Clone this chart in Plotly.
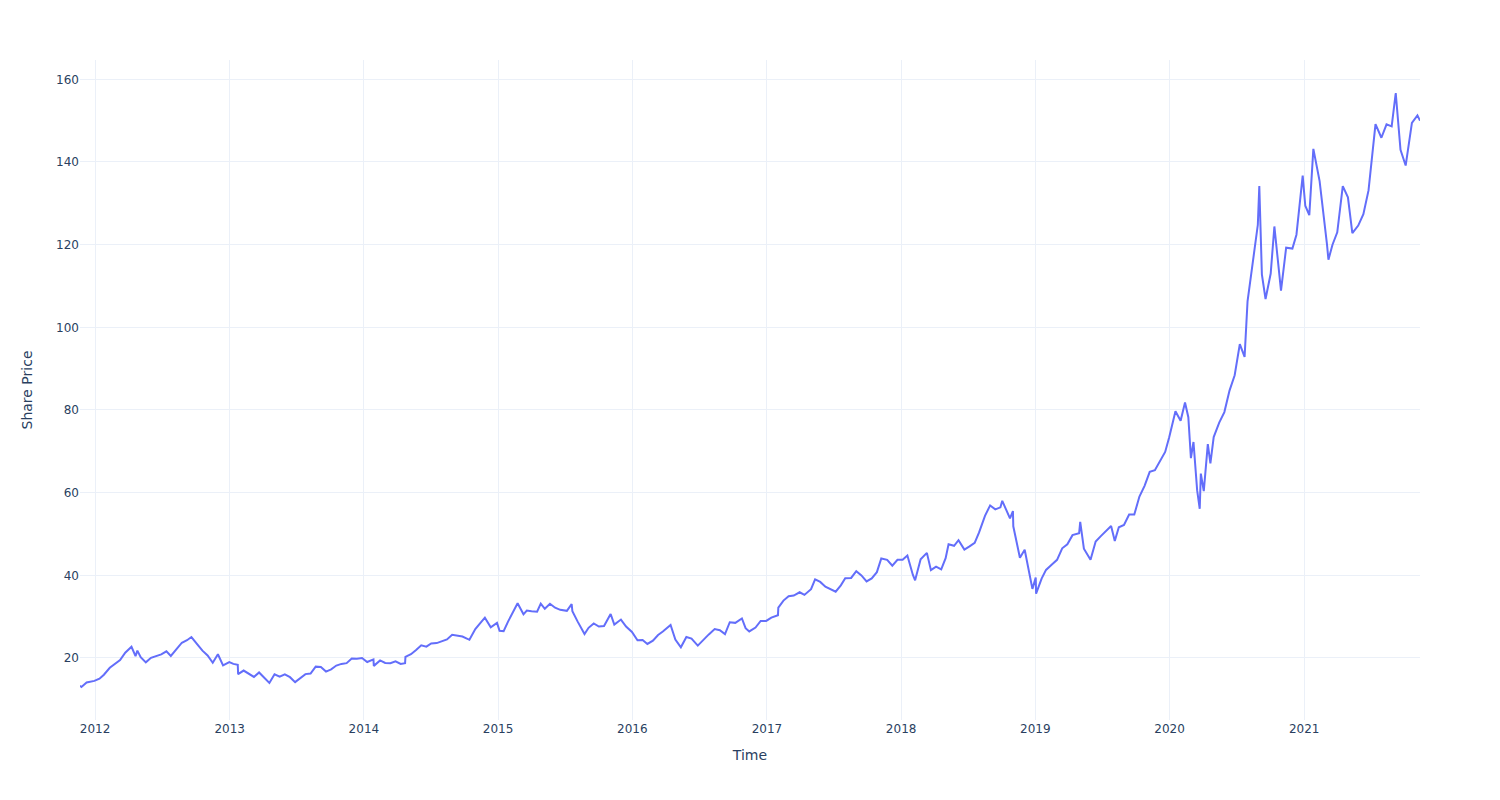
import plotly.graph_objects as go

dates = [
    "2011-11-21", "2011-11-25", "2011-12-09", "2011-12-30", "2012-01-13", "2012-01-25",
    "2012-02-10", "2012-02-24", "2012-03-09", "2012-03-23", "2012-04-09", "2012-04-20",
    "2012-04-25", "2012-05-04", "2012-05-18", "2012-06-01", "2012-06-15", "2012-06-29",
    "2012-07-13", "2012-07-25", "2012-08-10", "2012-08-24", "2012-09-07", "2012-09-19",
    "2012-10-05", "2012-10-19", "2012-11-02", "2012-11-16", "2012-11-30", "2012-12-14",
    "2012-12-31", "2013-01-11", "2013-01-23", "2013-01-24", "2013-02-08", "2013-02-22",
    "2013-03-08", "2013-03-22", "2013-04-05", "2013-04-19", "2013-05-03", "2013-05-17",
    "2013-05-31", "2013-06-14", "2013-06-28", "2013-07-12", "2013-07-26", "2013-08-09",
    "2013-08-23", "2013-09-06", "2013-09-20", "2013-10-04", "2013-10-18", "2013-11-01",
    "2013-11-15", "2013-11-29", "2013-12-13", "2013-12-27", "2014-01-10", "2014-01-27",
    "2014-01-28", "2014-02-14", "2014-02-28", "2014-03-14", "2014-03-28", "2014-04-11",
    "2014-04-23", "2014-04-24", "2014-05-09", "2014-05-23", "2014-06-06", "2014-06-20",
    "2014-07-03", "2014-07-18", "2014-08-01", "2014-08-15", "2014-08-29", "2014-09-12",
    "2014-09-26", "2014-10-15", "2014-10-31", "2014-11-14", "2014-11-26", "2014-12-12",
    "2014-12-29", "2015-01-05", "2015-01-16", "2015-01-28", "2015-02-13", "2015-02-23",
    "2015-03-11", "2015-03-20", "2015-04-02", "2015-04-17", "2015-04-27", "2015-05-08",
    "2015-05-22", "2015-06-05", "2015-06-19", "2015-07-07", "2015-07-20", "2015-07-22",
    "2015-08-05", "2015-08-24", "2015-09-04", "2015-09-18", "2015-10-02", "2015-10-16",
    "2015-11-03", "2015-11-13", "2015-12-01", "2015-12-15", "2015-12-31", "2016-01-15",
    "2016-01-29", "2016-02-11", "2016-02-26", "2016-03-11", "2016-03-24", "2016-04-14",
    "2016-04-27", "2016-05-12", "2016-05-27", "2016-06-10", "2016-06-27", "2016-07-15",
    "2016-07-27", "2016-08-12", "2016-08-26", "2016-09-09", "2016-09-22", "2016-10-07",
    "2016-10-25", "2016-11-04", "2016-11-14", "2016-12-01", "2016-12-15", "2016-12-30",
    "2017-01-13", "2017-01-31", "2017-02-01", "2017-02-15", "2017-03-01", "2017-03-15",
    "2017-03-31", "2017-04-13", "2017-05-01", "2017-05-12", "2017-05-26", "2017-06-09",
    "2017-06-23", "2017-07-07", "2017-07-21", "2017-08-02", "2017-08-18", "2017-09-01",
    "2017-09-15", "2017-09-29", "2017-10-13", "2017-10-27", "2017-11-08", "2017-11-24",
    "2017-12-08", "2017-12-22", "2018-01-05", "2018-01-18", "2018-02-02", "2018-02-08",
    "2018-02-23", "2018-03-12", "2018-03-23", "2018-04-06", "2018-04-20", "2018-05-02",
    "2018-05-10", "2018-05-25", "2018-06-06", "2018-06-22", "2018-07-06", "2018-07-20",
    "2018-08-01", "2018-08-17", "2018-08-31", "2018-09-14", "2018-09-28", "2018-10-03",
    "2018-10-24", "2018-11-01", "2018-11-02", "2018-11-20", "2018-12-03", "2018-12-14",
    "2018-12-24", "2019-01-02", "2019-01-03", "2019-01-18", "2019-01-30", "2019-02-15",
    "2019-03-01", "2019-03-15", "2019-03-29", "2019-04-12", "2019-04-30", "2019-05-03",
    "2019-05-13", "2019-05-31", "2019-06-14", "2019-06-28", "2019-07-12", "2019-07-26",
    "2019-08-05", "2019-08-16", "2019-08-30", "2019-09-13", "2019-09-27", "2019-10-11",
    "2019-10-25", "2019-11-08", "2019-11-22", "2019-12-06", "2019-12-20", "2019-12-31",
    "2020-01-17", "2020-01-31", "2020-02-12", "2020-02-21", "2020-02-28", "2020-03-06",
    "2020-03-16", "2020-03-23", "2020-03-26", "2020-04-03", "2020-04-14", "2020-04-21",
    "2020-04-30", "2020-05-15", "2020-05-29", "2020-06-12", "2020-06-26", "2020-07-10",
    "2020-07-23", "2020-07-31", "2020-08-14", "2020-08-28", "2020-09-01", "2020-09-08",
    "2020-09-18", "2020-10-02", "2020-10-12", "2020-10-30", "2020-11-13", "2020-11-30",
    "2020-12-11", "2020-12-28", "2021-01-04", "2021-01-15", "2021-01-26", "2021-02-12",
    "2021-03-04", "2021-03-08", "2021-03-19", "2021-04-01", "2021-04-16", "2021-04-30",
    "2021-05-12", "2021-05-28", "2021-06-11", "2021-06-25", "2021-07-14", "2021-07-30",
    "2021-08-13", "2021-08-27", "2021-09-07", "2021-09-20", "2021-10-04", "2021-10-21",
    "2021-11-05", "2021-11-12",
]

share_price = [
    13.30, 12.98, 14.06, 14.46, 14.99, 15.95,
    17.62, 18.66, 19.47, 21.29, 22.72, 20.46,
    21.79, 20.18, 18.94, 20.04, 20.50, 20.86,
    21.60, 20.50, 22.20, 23.69, 24.30, 25.07,
    23.30, 21.78, 20.60, 18.85, 20.90, 18.20,
    19.00, 18.57, 18.36, 16.09, 16.96, 16.10,
    15.42, 16.50, 15.11, 13.95, 16.07, 15.47,
    16.06, 15.36, 14.16, 15.23, 16.10, 16.23,
    17.90, 17.80, 16.70, 17.26, 18.17, 18.57,
    18.75, 19.86, 19.80, 20.00, 19.03, 19.66,
    18.09, 19.40, 18.79, 18.74, 19.18, 18.56,
    18.74, 20.28, 20.91, 21.93, 23.06, 22.73,
    23.50, 23.60, 24.03, 24.50, 25.60, 25.40,
    25.19, 24.40, 27.00, 28.50, 29.75, 27.42,
    28.48, 26.56, 26.50, 28.80, 31.77, 33.25,
    30.56, 31.47, 31.30, 31.19, 33.16, 31.90,
    33.13, 32.16, 31.65, 31.40, 33.02, 31.29,
    28.85, 25.78, 27.30, 28.36, 27.60, 27.75,
    30.64, 28.09, 29.30, 27.60, 26.30, 24.28,
    24.34, 23.40, 24.20, 25.57, 26.40, 28.00,
    24.45, 22.58, 25.09, 24.70, 23.00, 24.70,
    25.70, 27.00, 26.73, 25.78, 28.65, 28.50,
    29.56, 27.20, 26.43, 27.37, 28.95, 28.96,
    29.76, 30.34, 32.19, 33.88, 34.95, 35.10,
    35.90, 35.26, 36.65, 39.02, 38.40, 37.24,
    36.57, 36.05, 37.57, 39.28, 39.37, 41.01,
    39.97, 38.53, 39.25, 40.76, 44.06, 43.74,
    42.34, 43.75, 43.75, 44.80, 40.10, 38.79,
    43.87, 45.43, 41.24, 42.10, 41.43, 44.14,
    47.51, 47.15, 48.50, 46.23, 46.99, 47.86,
    50.38, 54.40, 56.91, 55.96, 56.44, 58.02,
    53.77, 55.55, 51.87, 44.25, 46.20, 41.37,
    36.71, 39.48, 35.55, 39.20, 41.31, 42.60,
    43.74, 46.53, 47.49, 49.72, 50.17, 52.94,
    46.43, 43.77, 48.19, 49.48, 50.83, 51.94,
    48.33, 51.62, 52.19, 54.69, 54.70, 59.05,
    61.65, 65.03, 65.45, 67.68, 69.86, 73.41,
    79.68, 77.38, 81.80, 78.26, 68.34, 72.26,
    60.55, 56.09, 64.61, 60.35, 71.76, 67.09,
    73.45, 76.93, 79.49, 84.70, 88.41, 95.92,
    92.85, 106.26, 114.91, 124.81, 134.18, 112.82,
    106.84, 113.02, 124.40, 108.86, 119.26, 119.05,
    122.41, 136.69, 129.41, 127.14, 143.16, 135.37,
    120.13, 116.36, 119.99, 123.00, 134.16, 131.46,
    122.77, 124.61, 127.35, 133.11, 149.15, 145.86,
    149.10, 148.60, 156.69, 142.94, 139.14, 149.48,
    151.28, 149.99,
]

x_title = "Time"
y_title = "Share Price"

fig = go.Figure(
    go.Scatter(
        x=dates,
        y=share_price,
        mode="lines",
        line=dict(color="#636efa", width=2),
        showlegend=False,
    )
)

fig.update_layout(
    template="plotly_white",
    width=1500,
    height=800,
    margin=dict(l=80, r=80, t=60, b=80),
    font=dict(family="DejaVu Sans", size=12, color="#2a3f5f"),
    xaxis=dict(title=dict(text=x_title, font=dict(size=14))),
    yaxis=dict(title=dict(text=y_title, font=dict(size=14), standoff=20)),
)

fig.write_html("out.html")
